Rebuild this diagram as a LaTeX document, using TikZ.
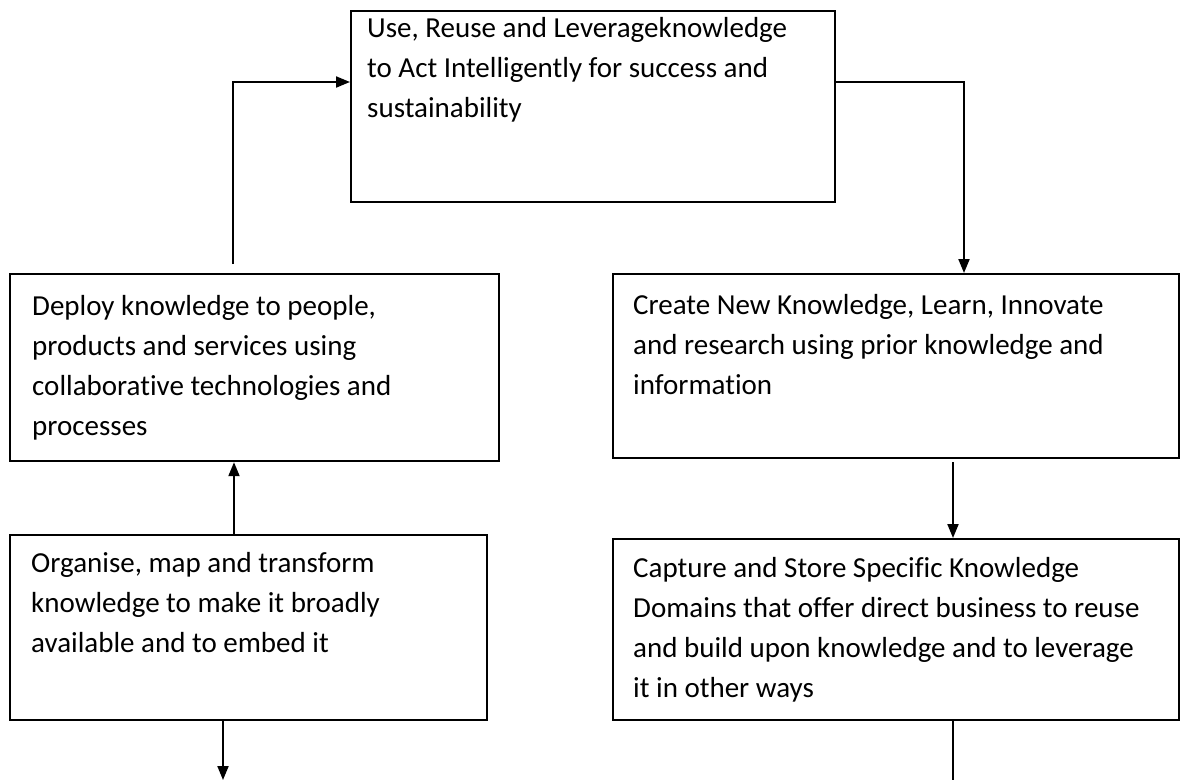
\documentclass[tikz,border=0pt]{standalone}
\usepackage{fontspec}
\setmainfont{Carlito}[Ligatures={NoCommon}]
\usetikzlibrary{arrows.meta,calc}
\begin{document}
\begin{tikzpicture}[x=1pt,y=-1pt,
  box/.style={draw, line width=2.2pt, inner sep=0pt, anchor=north west, minimum width=#1},
  txt/.style={anchor=base west, inner sep=0pt, font=\fontsize{29pt}{40pt}\selectfont},
  conn/.style={line width=2pt},
  arr/.style={conn, -{Triangle[length=14pt,width=11pt]}}]
\useasboundingbox (0,0) rectangle (1181,780);
\clip (0,0) rectangle (1181,780);
% boxes
\node[box=484pt, minimum height=191pt] (use) at (350,10) {};
\node[box=489pt, minimum height=187pt] (deploy) at (9,273) {};
\node[box=566pt, minimum height=184pt] (create) at (612,273) {};
\node[box=477pt, minimum height=185pt] (organise) at (9,534) {};
\node[box=566pt, minimum height=181pt] (capture) at (612,538) {};
% texts
\node[txt] (usetxt) at ($(use.north west)+(17,27)$) {\parbox[t]{600pt}{\raggedright Use, Reuse and Leverageknowledge\\to Act Intelligently for success and\\sustainability}};
\node[txt] (deploytxt) at ($(deploy.north west)+(23,42)$) {\parbox[t]{600pt}{\raggedright Deploy knowledge to people,\\products and services using\\collaborative technologies and\\processes}};
\node[txt] (createtxt) at ($(create.north west)+(21,41)$) {\parbox[t]{600pt}{\raggedright Create New Knowledge, Learn, Innovate\\and research using prior knowledge and\\information}};
\node[txt] (organisetxt) at ($(organise.north west)+(22,38)$) {\parbox[t]{600pt}{\raggedright Organise, map and transform\\knowledge to make it broadly\\available and to embed it}};
\node[txt] (capturetxt) at ($(capture.north west)+(21,39)$) {\parbox[t]{600pt}{\raggedright Capture and Store Specific Knowledge\\Domains that offer direct business to reuse\\and build upon knowledge and to leverage\\it in other ways}};
% free ends
\coordinate (deployup) at ($(deploy.north west)+(224,-9)$);
\coordinate (leftend) at (223,780);
\coordinate (rightend) at (953,780);
% connectors
\draw[arr] (deployup) |- ($(use.north west)+(0,72)$);
\draw[arr] ($(use.north east)+(0,72)$) -| ($(create.north west)+(352,0)$);
\draw[arr] ($(create.south west)+(341,3)$) -- ($(capture.north west)+(341,0)$);
\draw[arr] ($(organise.north west)+(225,0)$) -- ($(deploy.south west)+(225,0)$);
\draw[arr] ($(organise.south west)+(214,0)$) -- (leftend);
\draw[conn] ($(capture.south west)+(341,0)$) -- (rightend);
\end{tikzpicture}
\end{document}
